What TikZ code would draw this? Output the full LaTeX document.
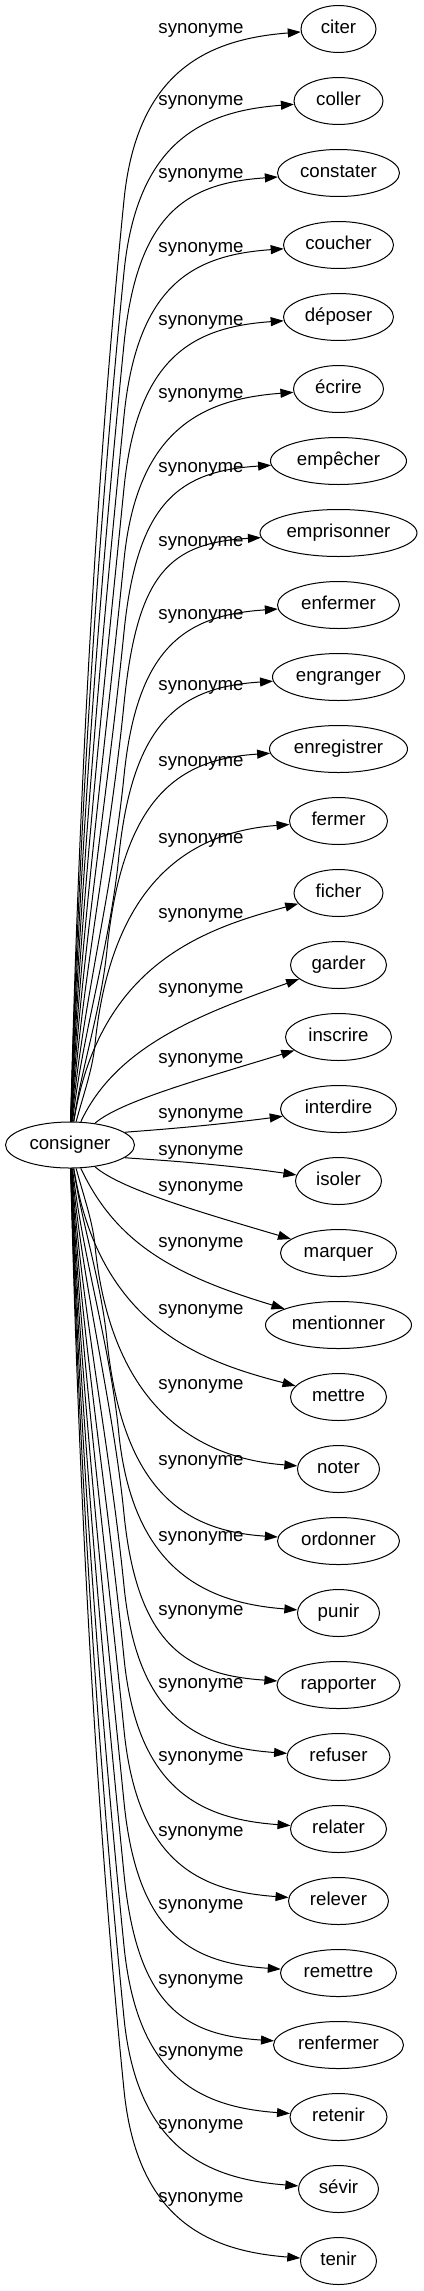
\documentclass[tikz,border=0pt]{standalone}
\usepackage{fontspec}
\setmainfont{Liberation Sans}
\usetikzlibrary{arrows.meta, shapes.geometric}

\begin{document}
\begin{tikzpicture}[x=1pt, y=-1pt,
  word/.style={draw, ellipse, line width=1pt, inner sep=0pt, minimum height=47pt, font=\fontsize{18.67}{22}\selectfont, text height=9.7pt, text depth=0pt},
  rel/.style={inner sep=0pt, font=\fontsize{18.67}{22}\selectfont, text height=9.7pt, text depth=0pt},
  link/.style={-{Triangle[length=13pt, width=9pt]}, line width=1pt}]
  \useasboundingbox (0,0) rectangle (423,2291);
  \node[word, minimum width=129pt, minimum height=46pt] (consigner) at (70,1145) {consigner};
  \foreach \w/\ww/\ly [count=\i] in {citer/75/29, coller/89/100.7, constater/122/173.3, coucher/110/247.7, déposer/110/320.7, écrire/90/394, empêcher/136/467.3, emprisonner/157/541.7, enfermer/122/614.3, engranger/132/686, enregistrer/138/762, fermer/98/839, ficher/89/914, garder/96/989, inscrire/106/1059, interdire/116/1114, isoler/86/1151, marquer/116/1187, mentionner/146/1243, mettre/96/1310, noter/82/1385, ordonner/122/1461, punir/82/1537, rapporter/123/1611, refuser/103/1684, relater/96/1757, relever/100/1832, remettre/116/1905, renfermer/130/1980, retenir/97/2052, sévir/80/2125, tenir/76/2198} {
    \pgfmathsetmacro\yt{29+72*(\i-1)}
    \node[word, minimum width=\ww pt] (t\i) at (338.5,\yt) {\w};
    \node[rel] (l\i) at (201,\ly) {synonyme};
    \pgfmathsetmacro\dd{1145-\yt}
    \pgfmathsetmacro\sg{\dd>0 ? 1 : -1}
    \pgfmathsetmacro\ad{abs(\dd)}
    \pgfmathsetmacro\ang{atan2(\dd,160)}
    \pgfmathsetmacro\rr{64.5*23.5/sqrt((23.5*cos(\ang))^2+(64.5*sin(\ang))^2)}
    \pgfmathsetmacro\sx{70+\rr*cos(\ang)}
    \pgfmathsetmacro\sy{1145-\rr*sin(\ang)}
    \pgfmathsetmacro\exx{338.5-\ww/2}
    \pgfmathtruncatemacro\near{\ad<=260 ? 1 : 0}
    \ifnum\near=1
      \pgfmathsetmacro\L{(\ad/20)^2}
      \pgfmathsetmacro\ph{\sg*min(85,1.47*abs(\ang))}
      \pgfmathsetmacro\pax{\sx+\L*cos(\ph)}
      \pgfmathsetmacro\pay{\sy-\L*sin(\ph)}
      \pgfmathsetmacro\cc{\ad*(1-\ad/330)*0.6}
      \pgfmathsetmacro\pbx{\exx-90}
      \pgfmathsetmacro\pby{\yt+\sg*\cc}
      \draw[link] (consigner) .. controls (\pax,\pay) and (\pbx,\pby) .. (t\i);
    \else
      \pgfmathsetmacro\H{171+max(0,500-\ad)*0.3}
      \pgfmathsetmacro\kx{124-(\H-171)*0.55}
      \pgfmathsetmacro\ky{\yt+\sg*\H}
      \pgfmathsetmacro\LA{abs(\sy-\ky)}
      \pgfmathsetmacro\pax{\sx+0.1*(\kx-\sx)}
      \pgfmathsetmacro\pay{\sy-\sg*0.33*\LA}
      \pgfmathsetmacro\pbx{\kx-0.033*\LA}
      \pgfmathsetmacro\pby{\ky+\sg*0.33*\LA}
      \pgfmathsetmacro\pcx{\kx+0.077*\H}
      \pgfmathsetmacro\pcy{\yt+\sg*0.23*\H}
      \pgfmathsetmacro\pdx{\exx-90}
      \pgfmathsetmacro\pdy{\yt+\sg*10}
      \draw[link] (consigner) .. controls (\pax,\pay) and (\pbx,\pby) .. (\kx,\ky) .. controls (\pcx,\pcy) and (\pdx,\pdy) .. (t\i);
    \fi
  }
\end{tikzpicture}
\end{document}
